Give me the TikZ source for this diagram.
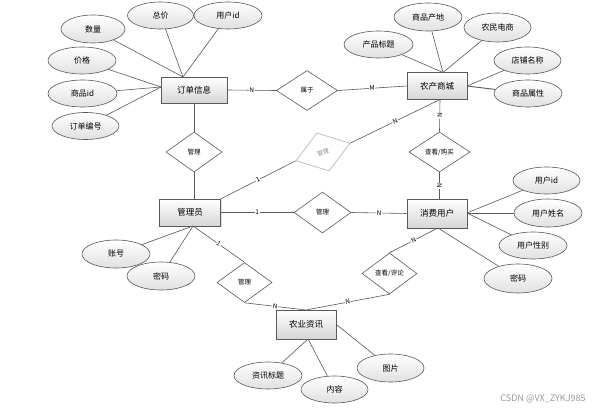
\documentclass[tikz,border=0pt]{standalone}
\usepackage{fontspec}
\setmainfont{Noto Sans CJK SC}
\usetikzlibrary{shapes.geometric,shadows}
\begin{document}
\begin{tikzpicture}[x=1pt,y=-1pt,
  ent/.style={draw=black!65, line width=0.8pt, top color=white, bottom color=black!16,
    minimum width=61pt, minimum height=27pt, inner sep=1pt, font=\fontsize{8.5}{9}\selectfont,
    drop shadow={shadow xshift=1pt, shadow yshift=-1pt, opacity=0.25}},
  attr/.style={ellipse, draw=black!65, line width=0.6pt, top color=white, bottom color=black!12,
    minimum width=67pt, minimum height=27pt, inner sep=0pt, font=\fontsize{8}{9}\selectfont},
  rel/.style={diamond, draw=black!65, line width=0.6pt, fill=white,
    minimum width=56pt, minimum height=40pt, inner sep=0pt, font=\fontsize{6.5}{7}\selectfont},
  ln/.style={draw=black!65, line width=0.6pt},
  card/.style={font=\fontsize{6.5}{7}\selectfont, fill=white, inner sep=0.6pt, sloped}
]
\useasboundingbox (0,0) rectangle (603,409);
\fill[white] (0,0) rectangle (603,409);

% entities
\node[ent, minimum width=66pt, minimum height=26pt] (dd) at (194,90) {订单信息};
\node[ent, minimum width=60pt] (sc) at (437,86) {农产商城};
\node[ent] (gly) at (190,212.5) {管理员};
\node[ent, minimum width=60pt, minimum height=29pt] (xf) at (437,213.5) {消费用户};
\node[ent, minimum width=60pt, minimum height=29pt] (zx) at (306,324.5) {农业资讯};

% relations
\node[rel, minimum width=61pt] (r1) at (307,90.5) {属于};
\node[rel] (r2) at (194,152) {管理};
\node[rel, minimum width=57pt, rotate=18, draw=black!30, text=black!45, font=\fontsize{6}{6}\selectfont] (r3) at (323,152) {管理};
\node[rel, minimum width=61pt] (r4) at (439.5,152) {查看/购买};
\node[rel, minimum width=57pt, minimum height=41pt] (r5) at (322.5,212.5) {管理};
\node[rel, minimum width=55pt] (r6) at (244.5,282.5) {管理};
\node[rel, minimum width=55pt, minimum height=41pt] (r7) at (389.5,273.5) {查看/评论};

% attributes
\node[attr, minimum width=64pt, minimum height=28pt] (a1) at (93,29) {数量};
\node[attr, minimum width=66pt, minimum height=27pt] (a2) at (160.5,15.5) {总价};
\node[attr, minimum width=68pt, minimum height=27pt] (a3) at (228,15.5) {用户id};
\node[attr, minimum width=68pt] (a4) at (82,60.5) {价格};
\node[attr, minimum width=69pt] (a5) at (82.5,93.5) {商品id};
\node[attr] (a6) at (85.5,126) {订单编号};

\node[attr, minimum width=68pt, minimum height=28pt] (b1) at (428,17) {商品产地};
\node[attr, minimum width=67pt, minimum height=29pt] (b2) at (497.5,27.5) {农民电商};
\node[attr, minimum width=69pt] (b3) at (378.5,44.5) {产品标题};
\node[attr] (b4) at (527.5,60.5) {店铺名称};
\node[attr, minimum width=68pt] (b5) at (528,93.5) {商品属性};

\node[attr] (c1) at (546.5,180.5) {用户id};
\node[attr, minimum width=68pt, minimum height=28pt] (c2) at (548,213) {用户姓名};
\node[attr, minimum width=68pt] (c3) at (533,245.5) {用户性别};
\node[attr, minimum width=68pt, minimum height=29pt] (c4) at (518,278.5) {密码};

\node[attr, minimum width=68pt, minimum height=28pt] (d1) at (116,254) {账号};
\node[attr, minimum width=68pt, minimum height=28pt] (d2) at (161,276) {密码};

\node[attr, minimum width=68pt] (e1) at (268,375.5) {资讯标题};
\node[attr] (e2) at (334.5,389.5) {内容};
\node[attr, minimum width=67pt, minimum height=28pt] (e3) at (390.5,368) {图片};

% junction points
\coordinate (ddT) at (183,77);
\coordinate (ddL) at (161,87);
\coordinate (scT) at (443,72.5);
\coordinate (scR) at (467,86);
\coordinate (scB) at (440,99.5);
\coordinate (glyT) at (194,199);
\coordinate (glyTR) at (220.5,199);
\coordinate (glyB) at (193,226);
\coordinate (xfR) at (467,213);
\coordinate (xfB) at (438,228);
\coordinate (xfT) at (439.5,199);
\coordinate (zxT) at (306,310);
\coordinate (zxB) at (308,339);
\coordinate (zxR) at (337,325);
\coordinate (ddB) at (194,103);

% attribute lines
\foreach \a in {a1,a2,a3} \draw[ln] (\a) -- (ddT);
\foreach \a in {a4,a5,a6} \draw[ln] (\a) -- (ddL);
\foreach \a in {b1,b2,b3} \draw[ln] (\a) -- (scT);
\draw[ln] (b4) -- (scR);
\draw[ln, line width=0.9pt] (b5) -- (scR);
\foreach \a in {c1,c2,c3} \draw[ln] (\a) -- (xfR);
\draw[ln] (c4) -- (xfB);
\foreach \a in {d1,d2} \draw[ln] (\a) -- (glyB);
\foreach \a in {e1,e2} \draw[ln] (\a) -- (zxB);
\draw[ln] (e3) -- (zxR);

% relationship lines
\draw[ln] (dd.east) -- node[card] {N} (r1.west);
\draw[ln] (r1.east) -- node[card] {M} (sc.west);
\draw[ln] (ddB) -- (r2.north);
\draw[ln] (r2.south) -- (glyT);
\draw[ln] (scB) -- node[card] {N} (r3.east);
\draw[ln] (glyTR) -- node[card] {1} (r3.west);
\draw[ln] (scB) -- node[card] {N} (r4.north);
\draw[ln] (r4.south) -- node[card] {N} (xfT);
\draw[ln] (gly.east) -- node[card] {1} (r5.west);
\draw[ln] (r5.east) -- node[card] {N} (xf.west);
\draw[ln] (glyB) -- node[card] {1} (r6.north);
\draw[ln] (r6.south) -- node[card] {N} (zxT);
\draw[ln] (r7.north) -- node[card] {N} (xfB);
\draw[ln] (r7.south) -- node[card] {N} (zxT);

% watermark
\node[font=\fontsize{9}{10}\selectfont, text=black!40, inner sep=0pt] (wm) at (543,399) {CSDN @VX\_ZYKJ985};
\end{tikzpicture}
\end{document}
